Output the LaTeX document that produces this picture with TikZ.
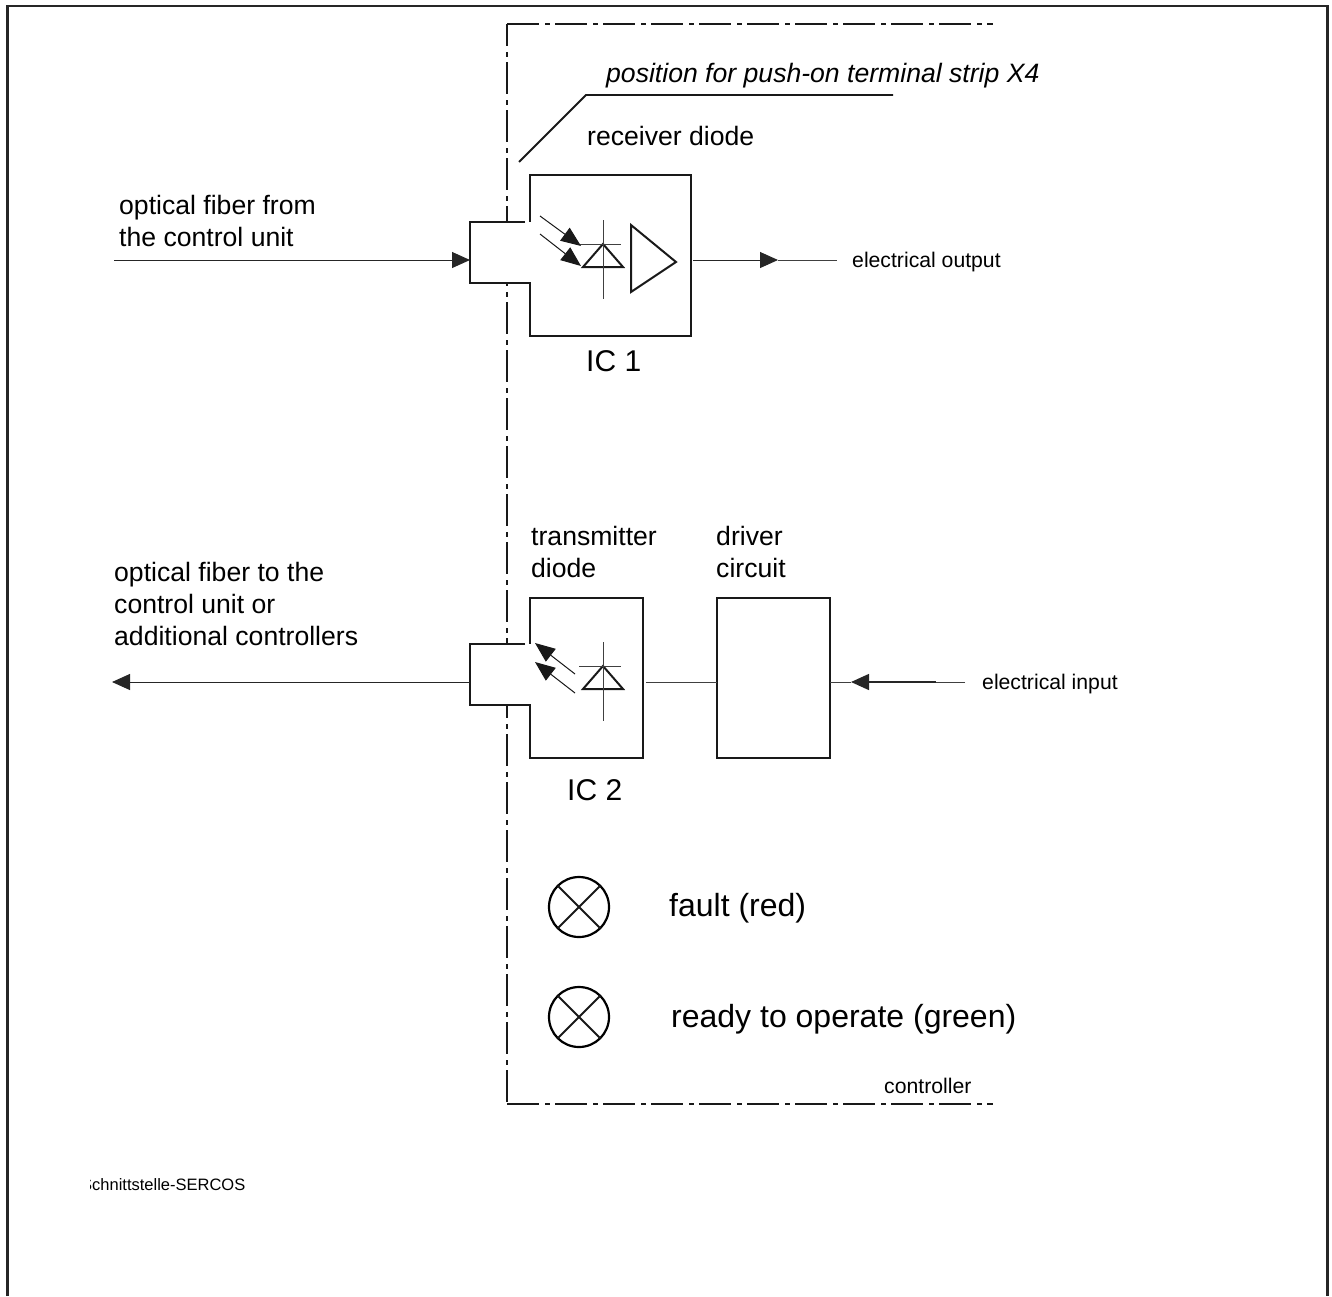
\documentclass[tikz,border=0pt]{standalone}
\usepackage{fontspec}
\setmainfont{Liberation Sans}
\usetikzlibrary{arrows.meta}
\tikzset{
  frameline/.style={line width=2.6pt, black!85},
  boxline/.style={line width=1.8pt, black!90},
  wire/.style={line width=1pt, black!75},
  fiber/.style={line width=1pt, black!85, -{Triangle[length=18pt,width=16pt]}},
  ray/.style={line width=1pt, black!90, -{Triangle[length=20pt,width=16pt]}},
  boundary/.style={line width=1.9pt, black!90, dash pattern=on 32pt off 6pt on 5pt off 5pt},
  label/.style={inner sep=0pt, anchor=base west, font=\fontsize{26.6}{32}\selectfont},
  biglabel/.style={label, font=\fontsize{32}{38}\selectfont},
  iclabel/.style={label, font=\fontsize{30}{36}\selectfont},
  smalllabel/.style={inner sep=0pt, anchor=base west, font=\fontsize{21.2}{25}\selectfont},
  lamp/.style={circle, draw, line width=2.2pt, minimum size=60pt, inner sep=0pt, outer sep=0pt}
}
\newcommand{\photodiode}[1]{
  \draw[boxline, line width=2pt] (#1) ++(-20,0) -- ++(40,0) -- ++(-20,-23) -- cycle;
  \draw[wire] (#1) ++(0,-47) -- ++(0,79);
  \draw[wire] (#1) ++(-24,-23) -- ++(42,0);
}
\begin{document}
\begin{tikzpicture}[x=1pt,y=-1pt]
\useasboundingbox (0,0) rectangle (1332,1296);
% outer frame, open at the bottom
\draw[frameline] (7.4,1296) -- (7.4,5.8) -- (1327.5,5.8) -- (1327.5,1296);
% controller boundary
\draw[boundary] (507,24) -- (993,24);
\draw[boundary, dash phase=10pt] (507,24) -- (507,1104);
\draw[boundary] (507,1104) -- (993,1104);
\node[smalllabel] (controller) at (884,1093) {controller};
% terminal strip
\coordinate (stripa) at (519,162);
\coordinate (stripb) at (586,95);
\coordinate (stripc) at (893,95);
\draw[boxline] (stripa) -- (stripb) -- (stripc);
\node[label, font=\fontsize{26.6}{32}\selectfont\itshape] (strip) at (606,82) {position for push-on terminal strip X4};
% IC 1
\fill[white] (470,222) rectangle (535,283);
\draw[boxline] (525,222) -- (470,222) -- (470,283) -- (530,283) -- (530,336) -- (691,336) -- (691,175) -- (530,175) -- (530,222);
\coordinate (icainl) at (470,260);
\coordinate (icaout) at (693,260);
\node[label] (receiver) at (587,145) {receiver diode};
\node[iclabel] (icone) at (586,371) {IC 1};
\photodiode{603,267}
\draw[boxline, line width=2pt] (631,225) -- (676,262) -- (631,292) -- cycle;
\draw[ray] (540,216) -- (581,246);
\draw[ray] (540,234) -- (581,266);
\coordinate (fromctrl) at (114,260);
\draw[fiber] (fromctrl) -- (icainl);
\coordinate (outa) at (778,260);
\coordinate (outb) at (837,260);
\draw[fiber] (icaout) -- (outa);
\draw[wire] (outa) -- (outb);
\node[smalllabel] (outlabel) at (852,267) {electrical output};
\node[label] (froma) at (119,214) {optical fiber from};
\node[label] (fromb) at (119,246) {the control unit};
% IC 2
\fill[white] (470,644) rectangle (535,705);
\draw[boxline] (525,644) -- (470,644) -- (470,705) -- (530,705) -- (530,758) -- (643,758) -- (643,598) -- (530,598) -- (530,644);
\coordinate (icbinl) at (470,682);
\coordinate (icbout) at (646,682);
\node[label] (transa) at (531,545) {transmitter};
\node[label] (transb) at (531,577) {diode};
\node[iclabel] (ictwo) at (567,800) {IC 2};
\photodiode{603,689}
\draw[ray] (575,674) -- (535,643);
\draw[ray] (575,693) -- (535,662);
\node[draw, boxline, minimum width=113pt, minimum height=160pt, inner sep=0pt, outer sep=0pt, anchor=north west] (driver) at (717,598) {};
\node[label] (drivera) at (716,545) {driver};
\node[label] (driverb) at (716,577) {circuit};
\draw[wire] (icbout) -- (icbout -| driver.west);
\coordinate (toctrl) at (112,682);
\draw[fiber] (icbinl) -- (toctrl);
\coordinate (ina) at (965,682);
\coordinate (inb) at (936,682);
\coordinate (inc) at (851,682);
\draw[wire] (ina) -- (inb);
\draw[fiber, line width=1.5pt] (inb) -- (inc);
\draw[wire] (inc) -- (inc -| driver.east);
\node[smalllabel] (inlabel) at (982,689) {electrical input};
\node[label] (toa) at (114,581) {optical fiber to the};
\node[label] (tob) at (114,613) {control unit or};
\node[label] (toc) at (114,645) {additional controllers};
% lamps
\node[lamp] (fault) at (579,907) {};
\draw[boxline, line width=2pt] (fault.north west) -- (fault.south east) (fault.north east) -- (fault.south west);
\node[biglabel] (faultlabel) at (669,916) {fault (red)};
\node[lamp] (ready) at (579,1017) {};
\draw[boxline, line width=2pt] (ready.north west) -- (ready.south east) (ready.north east) -- (ready.south west);
\node[biglabel] (readylabel) at (671,1027) {ready to operate (green)};
% first letter is cut off
\begin{scope}
\clip (90,1170) rectangle (260,1200);
\node[smalllabel, font=\fontsize{16.5}{20}\selectfont] (name) at (81,1190) {Schnittstelle-SERCOS};
\end{scope}
\end{tikzpicture}
\end{document}
